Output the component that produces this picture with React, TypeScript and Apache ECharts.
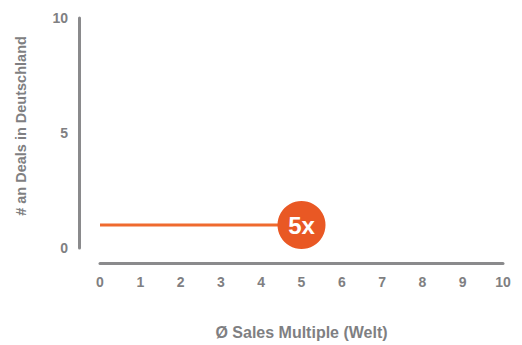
import React, { useEffect, useRef } from "react";
import * as echarts from "echarts";

const xTicks = [0, 1, 2, 3, 4, 5, 6, 7, 8, 9, 10];
const yTicks = [0, 5, 10];
const lineX = [0, 5];
const lineY = [1, 1];
const markerLabel = "5x";
const xName = "Ø Sales Multiple (Welt)";
const yName = "# an Deals in Deutschland";

export default function App() {
  const ref = useRef<HTMLDivElement>(null);
  useEffect(() => {
    document.body.style.margin = "0";
    const chart = echarts.init(ref.current!, null, { renderer: "svg" });
    const gray = "#8a8a8c";
    const labelGray = "#7f7f82";
    const font = "'Liberation Sans', Arial, sans-serif";
    const data = lineX.map((x, i) => ({
      value: [x, lineY[i]],
      symbol: i === lineX.length - 1 ? "circle" : "none",
      symbolSize: 48,
      label: {
        show: i === lineX.length - 1,
        formatter: markerLabel,
        position: "inside",
        color: "#ffffff",
        fontSize: 24,
        fontWeight: "bold",
        fontFamily: font,
      },
    }));
    chart.setOption({
      animation: false,
      grid: { left: 100, right: 19, top: 18, bottom: 93 },
      xAxis: {
        type: "value",
        min: 0,
        max: 10,
        interval: 1,
        offset: 15,
        name: xName,
        nameLocation: "middle",
        nameGap: 61,
        nameTextStyle: { color: labelGray, fontSize: 16, fontWeight: "bold", fontFamily: font },
        axisLine: { show: true, onZero: false, lineStyle: { color: gray, width: 3 } },
        axisTick: { show: false },
        splitLine: { show: false },
        axisLabel: { color: labelGray, fontSize: 14, fontWeight: "bold", fontFamily: font, margin: 12,
          formatter: (v: number) => (xTicks.includes(v) ? String(v) : "") },
      },
      yAxis: {
        type: "value",
        min: 0,
        max: 10,
        interval: 5,
        offset: 21,
        name: yName,
        nameLocation: "middle",
        nameGap: 51,
        nameRotate: 90,
        nameTextStyle: { color: labelGray, fontSize: 14.5, fontWeight: "bold", fontFamily: font, padding: [0, 0, 0, 14] },
        axisLine: { show: true, onZero: false, lineStyle: { color: gray, width: 3 } },
        axisTick: { show: false },
        splitLine: { show: false },
        axisLabel: { color: labelGray, fontSize: 14, fontWeight: "bold", fontFamily: font, margin: 11,
          formatter: (v: number) => (yTicks.includes(v) ? String(v) : "") },
      },
      series: [
        {
          type: "line",
          data,
          lineStyle: { color: "#ef6a2e", width: 3 },
          itemStyle: { color: "#e95824" },
          z: 3,
        },
      ],
    });
    return () => chart.dispose();
  }, []);
  return <div ref={ref} style={{ width: 522, height: 345 }} />;
}
